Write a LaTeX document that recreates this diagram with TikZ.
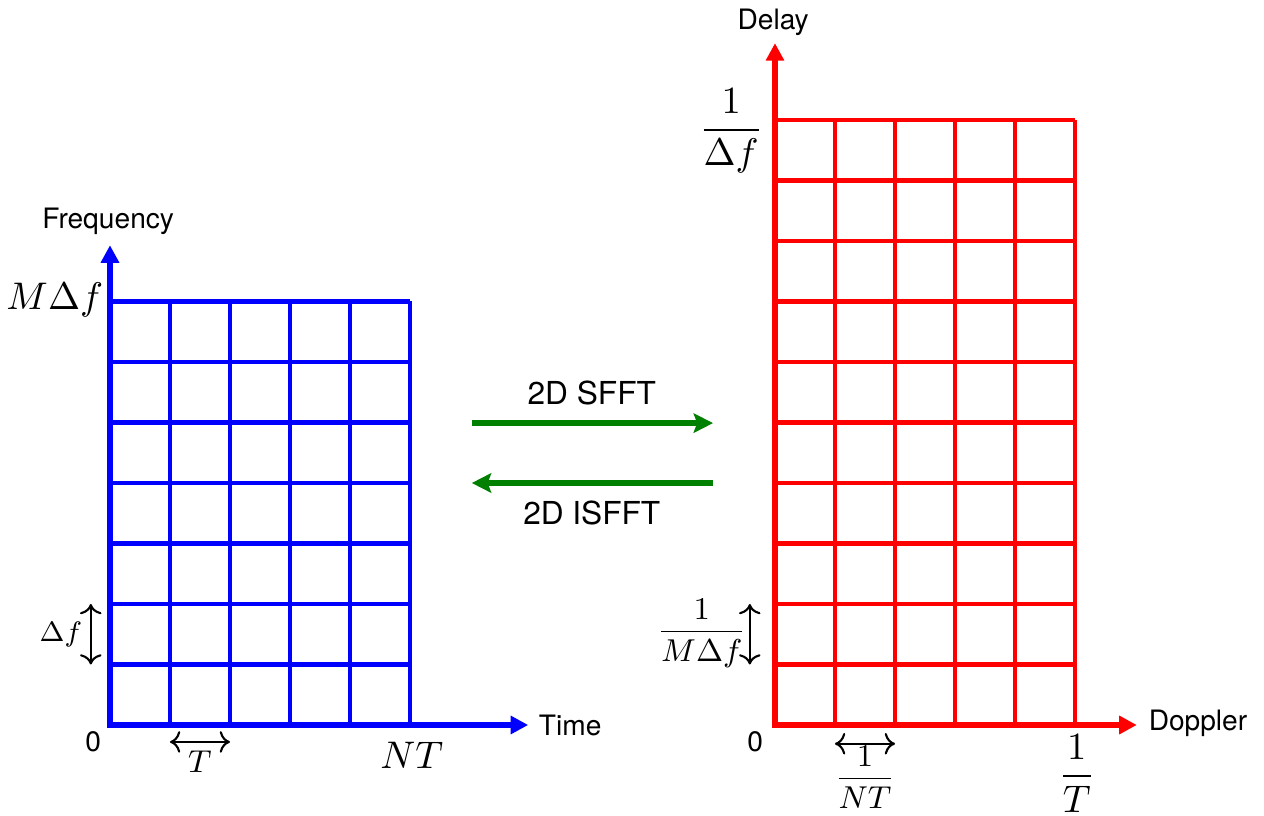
\documentclass[tikz,border=0pt]{standalone}
\usepackage{amsmath}
\usepackage{fontspec}
\newfontfamily\helv{TeX Gyre Heros}
\usepackage{tikz}
\usetikzlibrary{arrows.meta}

\begin{document}
\begin{tikzpicture}[x=0.6cm,y=0.605cm,
    axis/.style={line width=1.6pt,{Triangle[length=5pt,width=5pt]}-{Triangle[length=5pt,width=5pt]}},
    cell/.style={very thick},
    lbl/.style={font=\helv\footnotesize},
    fftlbl/.style={font=\helv\fontsize{9}{11}\selectfont},
    bigmath/.style={font=\fontsize{11}{13}\selectfont},
    span/.style={semithick,<->},
    fft/.style={line width=1.7pt,green!50!black,-{Stealth[length=5.5pt,width=5.5pt,inset=1pt]}}]
  \useasboundingbox (-1.833,-1.504) rectangle (19.233,11.983);
  % time-frequency plane
  \draw[blue,cell,step=1] (0,0) grid (5,7);
  \draw[blue,axis] (0,7.93) -- (0,0) -- (6.97,0);
  \node[lbl] (freq) at (-0.03,8.33) {Frequency};
  \node[lbl] (time) at (7.67,0) {Time};
  \node[lbl] (zeroL) at (-0.28,-0.28) {0};
  \node[bigmath] (mdf) at (-0.92,7.02) {$M\Delta f$};
  \node[bigmath] (nt) at (5.03,-0.5) {$NT$};
  \coordinate (tA) at (1,-0.28);
  \coordinate (tB) at (2,-0.28);
  \draw[span] (tA) -- (tB);
  \node[font=\small] (tlab) at (1.5,-0.6) {$T$};
  \coordinate (dfA) at (-0.32,1);
  \coordinate (dfB) at (-0.32,2);
  \draw[span] (dfA) -- (dfB);
  \node[font=\footnotesize] (dflab) at (-0.82,1.49) {$\Delta f$};
  % transforms
  \coordinate (sfftA) at (6.03,4.99);
  \coordinate (sfftB) at (10.05,4.99);
  \coordinate (isfftA) at (10.05,4.0);
  \coordinate (isfftB) at (6.03,4.0);
  \draw[fft] (sfftA) -- (sfftB);
  \draw[fft] (isfftA) -- (isfftB);
  \node[fftlbl] (sfft) at (8.03,5.49) {2D SFFT};
  \node[fftlbl] (isfft) at (8.03,3.5) {2D ISFFT};
  % delay-Doppler plane
  \begin{scope}[shift={(11.083,0)}]
    \draw[red,cell,step=1] (0,0) grid (5,10);
    \draw[red,axis] (0,11.27) -- (0,0) -- (6.03,0);
    \node[lbl] (delay) at (-0.03,11.62) {Delay};
    \node[lbl] (doppler) at (7.05,0.03) {Doppler};
    \node[lbl] (zeroR) at (-0.33,-0.28) {0};
    \node[bigmath] (invdf) at (-0.73,9.82) {$\dfrac{1}{\Delta f}$};
    \node[bigmath,inner sep=0pt] (invt) at (5.03,-0.8) {$\dfrac{1}{T}$};
    \coordinate (ntA) at (1,-0.31);
    \coordinate (ntB) at (2,-0.31);
    \draw[span] (ntA) -- (ntB);
    \node[font=\small,inner sep=0pt] (invnt) at (1.5,-0.86) {$\dfrac{1}{NT}$};
    \coordinate (mdfA) at (-0.42,1);
    \coordinate (mdfB) at (-0.42,2);
    \draw[span] (mdfA) -- (mdfB);
    \node[font=\small] (invmdf) at (-1.22,1.52) {$\dfrac{1}{M\Delta f}$};
  \end{scope}
\end{tikzpicture}
\end{document}
